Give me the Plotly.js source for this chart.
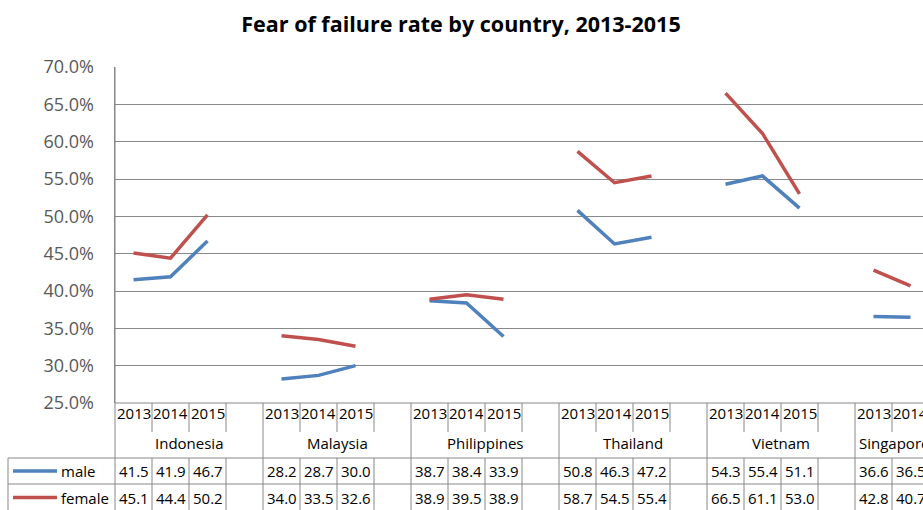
<!DOCTYPE html>
<html>
<head>
<meta charset="utf-8">
<script src="https://cdn.plot.ly/plotly-3.0.1.min.js"></script>
<style>html,body{margin:0;padding:0;background:#fff;overflow:hidden}#chart{width:923px;height:510px}</style>
</head>
<body>
<div id="chart"></div>
<script>
// ---- data ----
var countries = ['Indonesia', 'Malaysia', 'Philippines', 'Thailand', 'Vietnam', 'Singapore'];
var years = ['2013', '2014', '2015'];
var seriesNames = ['male', 'female'];
var maleValues = [
  [41.5, 41.9, 46.7],
  [28.2, 28.7, 30.0],
  [38.7, 38.4, 33.9],
  [50.8, 46.3, 47.2],
  [54.3, 55.4, 51.1],
  [36.6, 36.5]
];
var femaleValues = [
  [45.1, 44.4, 50.2],
  [34.0, 33.5, 32.6],
  [38.9, 39.5, 38.9],
  [58.7, 54.5, 55.4],
  [66.5, 61.1, 53.0],
  [42.8, 40.7]
];
var yTickStart = 25, yTickEnd = 70, yTickStep = 5;

// ---- styling / geometry ----
var colors = ['#4F81BD', '#C0504D'];
var gridColor = '#888888';
var tableFont = {family: 'Open Sans, sans-serif', size: 15, color: '#000'};
var plotTop = 67, plotBottom = 403, plotLeft = 115, W = 923, H = 510;
var slotsPerGroup = 4;
var slotPx = 37;
function py(Y) { return (plotBottom - Y) / (plotBottom - plotTop); }
function px(X) { return (X - plotLeft) / (W - plotLeft); }

var allSeries = [maleValues, femaleValues];
var traces = allSeries.map(function (vals, si) {
  var xs = [], ys = [];
  vals.forEach(function (grp, g) {
    grp.forEach(function (v, k) { xs.push(g * slotsPerGroup + k); ys.push(v); });
    xs.push(null); ys.push(null);
  });
  return {
    type: 'scatter', mode: 'lines', name: seriesNames[si], x: xs, y: ys,
    connectgaps: false, line: {color: colors[si], width: 3.5}, hoverinfo: 'skip', showlegend: false
  };
});

var shapes = [], annotations = [];
var lineStyle = {color: gridColor, width: 1};
function vline(x, xref, y0, y1) {
  shapes.push({type: 'line', xref: xref, yref: 'paper', x0: x, x1: x, y0: py(y0), y1: py(y1), line: lineStyle, layer: 'above'});
}
function hline(Y, x0, x1) {
  shapes.push({type: 'line', xref: 'paper', yref: 'paper', x0: x0, x1: x1, y0: py(Y), y1: py(Y), line: lineStyle, layer: 'above'});
}
// table horizontal lines
hline(plotBottom, 0, 1);
hline(458, px(8), 1);
hline(484, px(8), 1);
// left borders
vline(0, 'paper', plotTop, H);
vline(px(8), 'paper', 458, H);

countries.forEach(function (c, g) {
  var base = g * slotsPerGroup;
  if (g > 0) vline(base - 0.5, 'x', plotBottom, H);
  for (var k = 0; k < slotsPerGroup - 1; k++) {
    vline(base + k + 0.5, 'x', plotBottom, 432);
  }
  for (var k2 = 0; k2 < slotsPerGroup - 1; k2++) {
    vline(base + k2 + 0.5, 'x', 458, H);
  }
  years.forEach(function (yr, k) {
    annotations.push({xref: 'x', yref: 'paper', x: base + k, y: py(413), text: yr, showarrow: false,
      xanchor: 'center', yanchor: 'middle', font: tableFont});
  });
  var last = g === countries.length - 1;
  annotations.push({xref: 'x', yref: 'paper', x: last ? base - 0.45 : base + 1.5, y: py(443), text: c, showarrow: false,
    xanchor: last ? 'left' : 'center', yanchor: 'middle', font: tableFont});
  allSeries.forEach(function (vals, si) {
    (vals[g] || []).forEach(function (v, k) {
      annotations.push({xref: 'x', yref: 'paper', x: base + k, y: py(si === 0 ? 471 : 497.5), text: v.toFixed(1),
        showarrow: false, xanchor: 'center', yanchor: 'middle', font: tableFont});
    });
  });
});

// legend keys in table
seriesNames.forEach(function (n, si) {
  var Y = si === 0 ? 471 : 497.5;
  shapes.push({type: 'line', xref: 'paper', yref: 'paper', x0: px(13), x1: px(57), y0: py(Y), y1: py(Y),
    line: {color: colors[si], width: 3.5}, layer: 'above'});
  annotations.push({xref: 'paper', yref: 'paper', x: px(59), y: py(Y), text: n, showarrow: false,
    xanchor: 'left', yanchor: 'middle', font: tableFont});
});

var layout = {
  width: W, height: H,
  margin: {l: plotLeft, r: 0, t: plotTop, b: H - plotBottom, pad: 0},
  paper_bgcolor: '#fff', plot_bgcolor: '#fff',
  title: {text: 'Fear of failure rate by country, 2013-2015', xref: 'container', yref: 'container',
    x: 461 / W, y: 1 - 24 / H, xanchor: 'center', yanchor: 'middle',
    font: {family: 'Open Sans, sans-serif', size: 21.5, weight: 'bold', color: '#000'}},
  xaxis: {range: [-0.5, -0.5 + (W - plotLeft) / slotPx], showticklabels: false, showgrid: false,
    zeroline: false, showline: false, fixedrange: true},
  yaxis: {range: [yTickStart, yTickEnd], tick0: yTickStart, dtick: yTickStep, tickformat: '.1f', ticksuffix: '%',
    showgrid: true, gridcolor: gridColor, gridwidth: 1, zeroline: false, showline: true, linecolor: gridColor,
    linewidth: 1.5, ticks: '', ticklabelstandoff: 16,
    tickfont: {family: 'Open Sans, sans-serif', size: 18, color: '#595959'}, fixedrange: true},
  shapes: shapes, annotations: annotations,
  showlegend: false
};
Plotly.newPlot('chart', traces, layout, {staticPlot: true, displayModeBar: false});
</script>
</body>
</html>
